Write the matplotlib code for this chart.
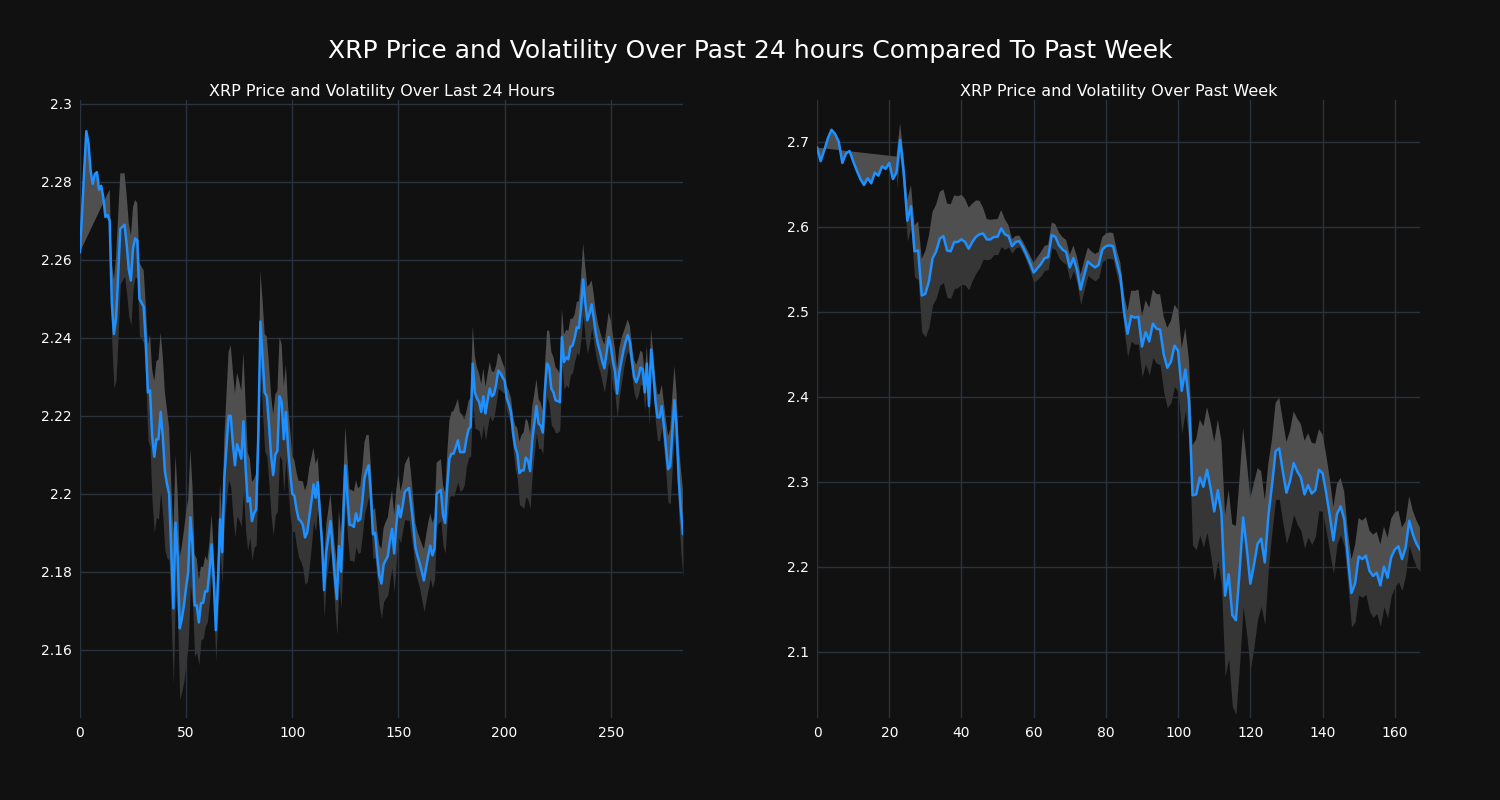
import numpy as np
import pandas as pd
import matplotlib
matplotlib.use("Agg")
import matplotlib.pyplot as plt
from matplotlib.ticker import MultipleLocator, FuncFormatter

# XRP price, last 24 hours (5 min steps)
price_24h = [
    2.262, 2.272, 2.283, 2.293, 2.290, 2.283, 2.2795, 2.282, 2.2825, 2.278,
    2.279, 2.276, 2.271, 2.2715, 2.270, 2.249, 2.241, 2.245, 2.256, 2.268,
    2.2685, 2.269, 2.264, 2.2575, 2.2547, 2.263, 2.2655, 2.265, 2.250, 2.249,
    2.248, 2.239, 2.226, 2.2265, 2.2148, 2.2095, 2.214, 2.214, 2.221, 2.2148,
    2.2058, 2.2025, 2.200, 2.185, 2.1706, 2.1926, 2.184, 2.1655, 2.168, 2.1715,
    2.176, 2.180, 2.194, 2.187, 2.1714, 2.1714, 2.167, 2.172, 2.172, 2.175,
    2.175, 2.180, 2.187, 2.178, 2.165, 2.177, 2.1935, 2.185, 2.204, 2.212,
    2.220, 2.220, 2.213, 2.2073, 2.2127, 2.211, 2.209, 2.2186, 2.207, 2.198,
    2.199, 2.193, 2.195, 2.196, 2.215, 2.2442, 2.2353, 2.226, 2.225, 2.218,
    2.210, 2.2048, 2.210, 2.211, 2.225, 2.2235, 2.214, 2.221, 2.212, 2.2055,
    2.200, 2.1995, 2.196, 2.1935, 2.193, 2.192, 2.1888, 2.190, 2.194, 2.198,
    2.2024, 2.199, 2.203, 2.195, 2.1873, 2.1753, 2.185, 2.189, 2.193, 2.186,
    2.179, 2.173, 2.1866, 2.180, 2.194, 2.2073, 2.199, 2.192, 2.192, 2.1915,
    2.195, 2.193, 2.1935, 2.198, 2.204, 2.206, 2.2073, 2.200, 2.1896, 2.190,
    2.184, 2.179, 2.177, 2.1818, 2.183, 2.184, 2.188, 2.191, 2.1847, 2.192,
    2.197, 2.194, 2.197, 2.2005, 2.201, 2.2015, 2.197, 2.192, 2.1862, 2.184,
    2.1822, 2.180, 2.1778, 2.181, 2.184, 2.1867, 2.1842, 2.186, 2.200, 2.2005,
    2.201, 2.1945, 2.1925, 2.202, 2.209, 2.2103, 2.2103, 2.212, 2.2137, 2.2107,
    2.2107, 2.2107, 2.214, 2.2165, 2.2172, 2.2334, 2.226, 2.2245, 2.2235, 2.221,
    2.225, 2.2206, 2.224, 2.227, 2.225, 2.2255, 2.228, 2.2316, 2.231, 2.2299,
    2.229, 2.2245, 2.223, 2.221, 2.2155, 2.212, 2.2103, 2.2053, 2.206, 2.206,
    2.2093, 2.2085, 2.2058, 2.2137, 2.218, 2.2225, 2.218, 2.2175, 2.2157, 2.2265,
    2.2334, 2.2324, 2.227, 2.226, 2.224, 2.2238, 2.2235, 2.2402, 2.2338, 2.235,
    2.2345, 2.2377, 2.238, 2.240, 2.2427, 2.2425, 2.2477, 2.255, 2.249, 2.2445,
    2.2462, 2.2486, 2.245, 2.241, 2.2383, 2.2363, 2.234, 2.2322, 2.236, 2.2402,
    2.238, 2.234, 2.2314, 2.2257, 2.231, 2.234, 2.2368, 2.239, 2.2407, 2.239,
    2.234, 2.230, 2.2286, 2.230, 2.2324, 2.232, 2.226, 2.2334, 2.2225, 2.237,
    2.2314, 2.224, 2.2196, 2.2196, 2.2225, 2.2176, 2.212, 2.2063, 2.207, 2.216,
    2.224, 2.217, 2.2038, 2.196, 2.1897,
]

# XRP price, past week (hourly)
price_week = [
    2.693, 2.677, 2.690, 2.704, 2.714, 2.709, 2.700, 2.675, 2.686, 2.689,
    2.677, 2.666, 2.656, 2.649, 2.657, 2.651, 2.6635, 2.660, 2.671, 2.668,
    2.675, 2.656, 2.6635, 2.702, 2.6635, 2.607, 2.624, 2.571, 2.572, 2.519,
    2.521, 2.536, 2.563, 2.571, 2.586, 2.589, 2.572, 2.571, 2.582, 2.582,
    2.585, 2.582, 2.574, 2.582, 2.588, 2.591, 2.592, 2.585, 2.585, 2.588,
    2.588, 2.598, 2.591, 2.589, 2.577, 2.582, 2.583, 2.576, 2.567, 2.557,
    2.546, 2.551, 2.556, 2.563, 2.564, 2.590, 2.588, 2.578, 2.573, 2.570,
    2.552, 2.563, 2.549, 2.526, 2.543, 2.559, 2.555, 2.552, 2.555, 2.573,
    2.577, 2.578, 2.577, 2.558, 2.542, 2.500, 2.474, 2.495, 2.493, 2.494,
    2.459, 2.476, 2.465, 2.486, 2.480, 2.479, 2.450, 2.434, 2.441, 2.460,
    2.454, 2.407, 2.432, 2.395, 2.284, 2.285, 2.305, 2.294, 2.314, 2.292,
    2.265, 2.290, 2.263, 2.166, 2.191, 2.143, 2.137, 2.193, 2.258, 2.222,
    2.180, 2.202, 2.227, 2.233, 2.205, 2.260, 2.296, 2.336, 2.339, 2.312,
    2.287, 2.301, 2.322, 2.312, 2.305, 2.285, 2.296, 2.286, 2.290, 2.314,
    2.310, 2.287, 2.260, 2.231, 2.262, 2.271, 2.256, 2.211, 2.169, 2.180,
    2.212, 2.209, 2.213, 2.195, 2.189, 2.193, 2.178, 2.200, 2.187, 2.211,
    2.220, 2.224, 2.209, 2.222, 2.254, 2.238, 2.227, 2.220,
]

windows = [15, 23]
titles = ["XRP Price and Volatility Over Last 24 Hours",
          "XRP Price and Volatility Over Past Week"]
y_limits = [(2.1425, 2.301), (2.022, 2.749)]
x_steps = [50, 20]
y_steps = [0.02, 0.1]

bg = "#111111"
grid_c = "#2a323d"
line_c = "#1e90ff"

fig = plt.figure(figsize=(15, 8), dpi=100, facecolor=bg)
fig.suptitle("XRP Price and Volatility Over Past 24 hours Compared To Past Week",
             color="white", fontsize=18, y=0.951)

positions = [[0.0533, 0.1025, 0.402, 0.7725], [0.5447, 0.1025, 0.402, 0.7725]]

for i, prices in enumerate([price_24h, price_week]):
    ax = fig.add_axes(positions[i], facecolor=bg)
    s = pd.Series(prices)
    x = np.arange(len(s))
    vol = s.rolling(windows[i]).std()
    upper = (s + vol).to_numpy()
    lower = (s - vol).to_numpy()
    p = s.to_numpy()

    # upper half of the band (nan points skipped, gives the wedge at the start)
    px = np.concatenate([x, x[::-1]])
    py = np.concatenate([p, upper[::-1]])
    keep = ~np.isnan(py)
    ax.fill(px[keep], py[keep], color="#4f4f4f", lw=0, zorder=1)
    ax.fill_between(x, lower, p, color="#363636", lw=0, zorder=1)
    ax.plot(x, p, color=line_c, lw=1.8, zorder=3)

    ax.set_xlim(0, len(s) - 1)
    ax.set_ylim(*y_limits[i])
    ax.xaxis.set_major_locator(MultipleLocator(x_steps[i]))
    ax.yaxis.set_major_locator(MultipleLocator(y_steps[i]))
    ax.yaxis.set_major_formatter(FuncFormatter(lambda v, _: f"{round(v, 4):g}"))
    ax.grid(True, color=grid_c, lw=1, zorder=0)
    ax.set_axisbelow(True)
    for sp in ax.spines.values():
        sp.set_visible(False)
    ax.tick_params(colors="white", labelsize=10, length=0, pad=6)
    ax.set_title(titles[i], color="white", fontsize=11.5, pad=3)

fig.savefig("out.png", facecolor=bg)
